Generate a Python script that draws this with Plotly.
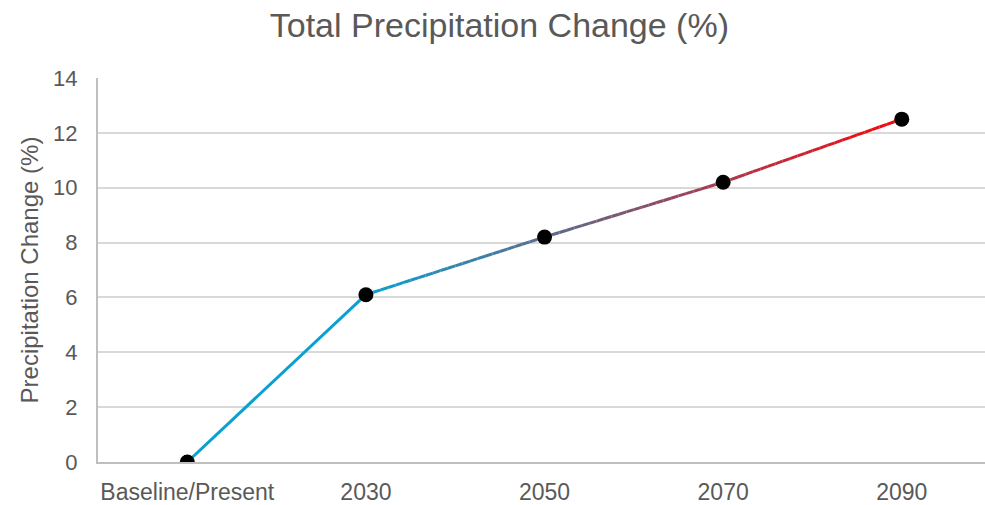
import plotly.graph_objects as go

# Chart data
categories = ["Baseline/Present", "2030", "2050", "2070", "2090"]
precip_change = [0, 6.1, 8.2, 10.2, 12.5]
y_ticks = [0, 2, 4, 6, 8, 10, 12, 14]

FONT = "Liberation Sans"
TEXT_GREY = "#595959"

x_pos = list(range(len(categories)))

# Colour ramp for the line: cyan up to the second point, then blending to red
START_RGB = (10, 160, 210)
END_RGB = (250, 5, 10)


def ramp_colour(x):
    lo, hi = x_pos[1], x_pos[-1]
    t = min(max((x - lo) / (hi - lo), 0.0), 1.0)
    r, g, b = (round(a + (c - a) * t) for a, c in zip(START_RGB, END_RGB))
    return f"rgb({r},{g},{b})"


fig = go.Figure()

# Each segment between neighbouring values is drawn in short pieces so the
# stroke colour can shift smoothly along the line.
PIECES = 24
for i in range(len(x_pos) - 1):
    x0, x1 = x_pos[i], x_pos[i + 1]
    y0, y1 = precip_change[i], precip_change[i + 1]
    n = 1 if i == 0 else PIECES
    for k in range(n):
        fa, fb = k / n, (k + 1) / n
        xa, xb = x0 + (x1 - x0) * fa, x0 + (x1 - x0) * fb
        ya, yb = y0 + (y1 - y0) * fa, y0 + (y1 - y0) * fb
        fig.add_trace(go.Scatter(
            x=[xa, xb], y=[ya, yb], mode="lines",
            line=dict(color=ramp_colour((xa + xb) / 2), width=3),
            hoverinfo="skip", showlegend=False,
        ))

# Data points
fig.add_trace(go.Scatter(
    x=x_pos, y=precip_change, mode="markers",
    marker=dict(color="black", size=15),
    showlegend=False,
))

fig.update_layout(
    width=985, height=505,
    margin=dict(l=98, r=0, t=78, b=43),
    paper_bgcolor="white", plot_bgcolor="white",
    font=dict(family=FONT, color=TEXT_GREY, size=22),
    title=dict(
        text="Total Precipitation Change (%)",
        x=0.507, xanchor="center", y=0.95, yanchor="middle",
        font=dict(family=FONT, size=34, color=TEXT_GREY),
    ),
)

fig.update_xaxes(
    range=[-0.5, 4.466],
    tickmode="array", tickvals=x_pos, ticktext=categories,
    showgrid=False, zeroline=False,
    showline=True, linecolor="#bfbfbf", linewidth=2,
    ticks="", ticklabelstandoff=8,
    tickfont=dict(size=23, color=TEXT_GREY),
)

fig.update_yaxes(
    range=[0, 14],
    tickmode="array", tickvals=y_ticks,
    showgrid=True, gridcolor="#d9d9d9", gridwidth=2,
    zeroline=False,
    showline=True, linecolor="#bfbfbf", linewidth=2,
    ticks="", ticklabelstandoff=14,
    tickfont=dict(size=22, color=TEXT_GREY),
    title=dict(text="Precipitation Change (%)", standoff=8,
               font=dict(size=24, color=TEXT_GREY)),
)

fig.write_html("out.html")
